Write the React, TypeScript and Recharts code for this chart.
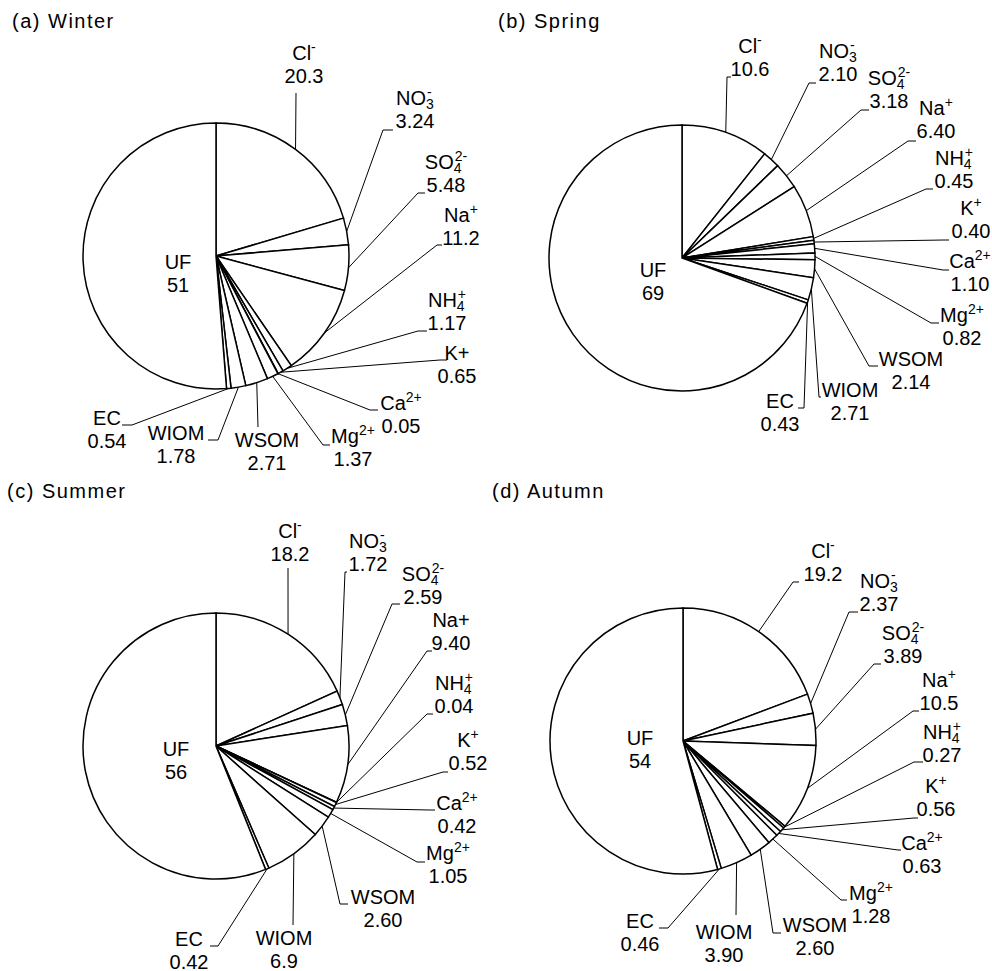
import { PieChart, Pie } from 'recharts';

// species in drawing order (clockwise from 12 o'clock); _x = subscript, ^x = superscript
const winterNames = ['Cl^-', 'NO_3^-', 'SO_4^2-', 'Na^+', 'NH_4^+', 'K+', 'Ca^2+', 'Mg^2+', 'WSOM', 'WIOM', 'EC', 'UF'];
const springNames = ['Cl^-', 'NO_3^-', 'SO_4^2-', 'Na^+', 'NH_4^+', 'K^+', 'Ca^2+', 'Mg^2+', 'WSOM', 'WIOM', 'EC', 'UF'];
const summerNames = ['Cl^-', 'NO_3^-', 'SO_4^2-', 'Na+', 'NH_4^+', 'K^+', 'Ca^2+', 'Mg^2+', 'WSOM', 'WIOM', 'EC', 'UF'];
const autumnNames = ['Cl^-', 'NO_3^-', 'SO_4^2-', 'Na^+', 'NH_4^+', 'K^+', 'Ca^2+', 'Mg^2+', 'WSOM', 'WIOM', 'EC', 'UF'];

// mass fractions (%)
const winterValues = ['20.3', '3.24', '5.48', '11.2', '1.17', '0.65', '0.05', '1.37', '2.71', '1.78', '0.54', '51'];
const springValues = ['10.6', '2.10', '3.18', '6.40', '0.45', '0.40', '1.10', '0.82', '2.14', '2.71', '0.43', '69'];
const summerValues = ['18.2', '1.72', '2.59', '9.40', '0.04', '0.52', '0.42', '1.05', '2.60', '6.9', '0.42', '56'];
const autumnValues = ['19.2', '2.37', '3.89', '10.5', '0.27', '0.56', '0.63', '1.28', '2.60', '3.90', '0.46', '54'];

// label placement relative to pie centre: [elbowX, elbowY, stubEndX, textCentreX, nameBaselineY]
type Place = [number | null, number | null, number | null, number, number];

const winterPlaces: Place[] = [
  [80, -163, 80, 88, -196],
  [167, -126, 177, 199, -151],
  [202, -63, 209, 230, -87],
  [221, -11, 226, 245, -34],
  [202, 75, 211, 231, 51],
  [224, 104, 231, 241, 104],
  [154, 154, 162, 185, 154],
  [107, 189, 114, 137, 187],
  [42, 171, 42, 51, 191],
  [2, 184, -8, -40, 184],
  [-84, 169, -94, -109, 169],
  [null, null, null, -38, 13],
];
const springPlaces: Place[] = [
  [45, -181, 49, 68, -205],
  [127, -175, 134, 156, -200],
  [179, -148, 187, 207, -173],
  [226, -117, 234, 254, -143],
  [244, -69, 251, 272, -93],
  [262, -18, 267, 289, -43],
  [261, 12, 267, 288, 10],
  [249, 65, 257, 280, 64],
  [187, 108, 196, 229, 108],
  [137, 139, 139, 168, 139],
  [122, 150, 116, 98, 150],
  [null, null, null, -29, 19],
];
const summerPlaces: Place[] = [
  [72, -178, 72, 74, -208],
  [129, -174, 131, 152, -198],
  [176, -142, 184, 207, -165],
  [211, -95, 216, 235, -119],
  [211, -32, 217, 238, -56],
  [227, 26, 232, 252, 1],
  [214, 64, 219, 241, 64],
  [201, 116, 209, 232, 114],
  [124, 158, 132, 167, 158],
  [77, 179, 77, 68, 199],
  [2, 200, -6, -27, 200],
  [null, null, null, -40, 10],
];
const autumnPlaces: Place[] = [
  [110, -159, 116, 140, -183],
  [166, -129, 175, 196, -153],
  [191, -77, 198, 220, -101],
  [230, -30, 236, 256, -54],
  [231, 21, 240, 259, -2],
  [231, 77, 235, 253, 52],
  [215, 109, 218, 239, 109],
  [158, 159, 164, 188, 159],
  [90, 192, 98, 132, 191],
  [53, 174, 53, 41, 198],
  [-15, 187, -24, -43, 187],
  [null, null, null, -43, 4],
];

const FONT = 'Liberation Sans, Arial, sans-serif';
const RAD = Math.PI / 180;

function renderName(name: string) {
  const parts = name.split(/(?=[_^])/);
  const out: JSX.Element[] = [];
  let subWidth = 0;
  parts.forEach((p, i) => {
    if (p[0] === '_') {
      const t = p.slice(1);
      subWidth = t.length * 7.8;
      out.push(<tspan key={i} dy={4} fontSize={14}>{t}</tspan>);
    } else if (p[0] === '^') {
      const t = p.slice(1);
      if (subWidth) {
        out.push(<tspan key={i} dx={-subWidth + 1} dy={-12} fontSize={14}>{t}</tspan>);
      } else {
        out.push(<tspan key={i} dy={-8} fontSize={14}>{t}</tspan>);
      }
    } else {
      out.push(<tspan key={i}>{p}</tspan>);
    }
  });
  return out;
}

function makeLabel(names: string[], values: string[], places: Place[]) {
  return (props: any) => {
    const { cx, cy, midAngle, outerRadius, index } = props;
    const [ex, ey, sx, tx, ty] = places[index];
    let line = null;
    if (ex !== null && ey !== null && sx !== null) {
      const px = cx + outerRadius * Math.cos(-midAngle * RAD);
      const py = cy + outerRadius * Math.sin(-midAngle * RAD);
      line = (
        <path
          d={`M${px},${py}L${cx + ex},${cy + ey}L${cx + sx},${cy + ey}`}
          stroke="#000"
          strokeWidth={1}
          fill="none"
        />
      );
    }
    return (
      <g>
        {line}
        <text x={cx + tx} y={cy + ty} textAnchor="middle" fontFamily={FONT} fontSize={20} fill="#000">
          {renderName(names[index])}
        </text>
        <text x={cx + tx} y={cy + ty + 23} textAnchor="middle" fontFamily={FONT} fontSize={20} fill="#000">
          {values[index]}
        </text>
      </g>
    );
  };
}

const seasons = [
  { title: '(a) Winter', names: winterNames, values: winterValues, places: winterPlaces, cx: 216, cy: 256, tx: 12, ty: 28 },
  { title: '(b) Spring', names: springNames, values: springValues, places: springPlaces, cx: 682, cy: 258, tx: 498, ty: 28 },
  { title: '(c) Summer', names: summerNames, values: summerValues, places: summerPlaces, cx: 216, cy: 746, tx: 7, ty: 498 },
  { title: '(d) Autumn', names: autumnNames, values: autumnValues, places: autumnPlaces, cx: 683, cy: 741, tx: 492, ty: 498 },
];

export default function App() {
  return (
    <div style={{ position: 'absolute', left: 0, top: 0, width: 992, height: 971, background: '#fff' }}>
      <PieChart width={992} height={971} margin={{ top: 0, right: 0, bottom: 0, left: 0 }}>
        {seasons.map((s) => (
          <Pie
            key={s.title}
            data={s.values.map((v, i) => ({ name: s.names[i], value: Number(v) }))}
            dataKey="value"
            nameKey="name"
            cx={s.cx}
            cy={s.cy}
            innerRadius={0}
            outerRadius={133}
            startAngle={90}
            endAngle={-270}
            fill="#fff"
            stroke="#000"
            strokeWidth={1.5}
            labelLine={false}
            label={makeLabel(s.names, s.values, s.places)}
            isAnimationActive={false}
          />
        ))}
      </PieChart>
      <svg width={992} height={971} style={{ position: 'absolute', left: 0, top: 0, pointerEvents: 'none' }}>
        {seasons.map((s) => (
          <text key={s.title} x={s.tx} y={s.ty} fontFamily={FONT} fontSize={20} letterSpacing={1.5} fill="#000">
            {s.title}
          </text>
        ))}
      </svg>
    </div>
  );
}
